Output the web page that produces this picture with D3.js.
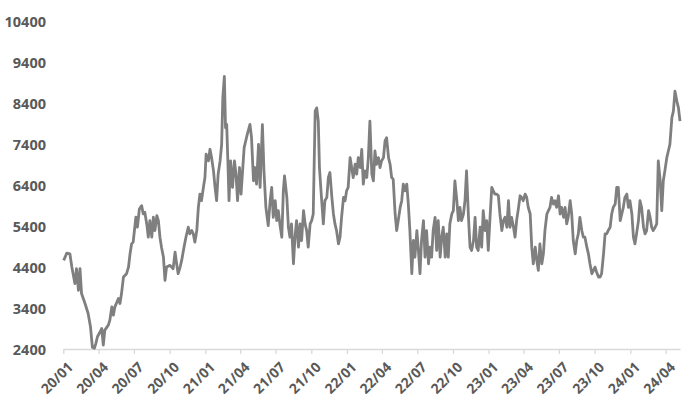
<!DOCTYPE html>
<html><head><meta charset="utf-8">
<script src="https://cdn.jsdelivr.net/npm/d3@7"></script>
<style>
html,body{margin:0;padding:0;background:#fff;}
svg text{font-family:"Open Sans","Liberation Sans",sans-serif;font-weight:700;fill:#595959;}
</style></head>
<body><svg id="c" width="700" height="419"></svg>
<script>
const dates = [
"2020-01-02","2020-01-10","2020-01-18","2020-01-23","2020-01-31","2020-02-04","2020-02-09","2020-02-13","2020-02-17","2020-02-26",
"2020-03-05","2020-03-11","2020-03-16","2020-03-21","2020-03-25","2020-03-29","2020-04-05","2020-04-09","2020-04-13","2020-04-17",
"2020-04-26","2020-04-30","2020-05-05","2020-05-09","2020-05-13","2020-05-22","2020-05-26","2020-05-30","2020-06-04","2020-06-12",
"2020-06-17","2020-06-21","2020-06-25","2020-06-29","2020-07-06","2020-07-10","2020-07-15","2020-07-21","2020-07-25","2020-07-29",
"2020-08-03","2020-08-07","2020-08-11","2020-08-16","2020-08-20","2020-08-24","2020-08-29","2020-09-02","2020-09-06","2020-09-10",
"2020-09-15","2020-09-19","2020-09-23","2020-10-02","2020-10-10","2020-10-15","2020-10-19","2020-10-23","2020-10-28","2020-11-01",
"2020-11-07","2020-11-12","2020-11-18","2020-11-22","2020-11-27","2020-12-01","2020-12-05","2020-12-10","2020-12-14","2020-12-18",
"2020-12-22","2020-12-27","2020-12-31","2021-01-03","2021-01-09","2021-01-13","2021-01-17","2021-01-22","2021-01-26","2021-01-30",
"2021-02-03","2021-02-08","2021-02-12","2021-02-15","2021-02-19","2021-02-22","2021-02-25","2021-02-28","2021-03-03","2021-03-07",
"2021-03-12","2021-03-17","2021-03-21","2021-03-25","2021-03-30","2021-04-03","2021-04-07","2021-04-11","2021-04-15","2021-04-19",
"2021-04-26","2021-04-30","2021-05-05","2021-05-09","2021-05-13","2021-05-18","2021-05-22","2021-05-28",
"2021-06-01","2021-06-06","2021-06-12","2021-06-17","2021-06-21","2021-06-25","2021-06-30","2021-07-04","2021-07-08","2021-07-12",
"2021-07-17","2021-07-21","2021-07-24","2021-07-30","2021-08-03","2021-08-07","2021-08-11","2021-08-16","2021-08-20","2021-08-24",
"2021-08-29","2021-09-02","2021-09-06","2021-09-11","2021-09-15","2021-09-19","2021-09-23","2021-09-28","2021-10-02","2021-10-06",
"2021-10-11","2021-10-15","2021-10-19","2021-10-22","2021-10-26","2021-11-01","2021-11-05","2021-11-10","2021-11-14","2021-11-18",
"2021-11-23","2021-11-27","2021-12-01","2021-12-05","2021-12-10","2021-12-14","2021-12-18","2021-12-23","2021-12-27","2021-12-31",
"2022-01-04","2022-01-09","2022-01-13","2022-01-17","2022-01-22","2022-01-26","2022-01-30","2022-02-04","2022-02-08","2022-02-12",
"2022-02-16","2022-02-21","2022-02-25","2022-03-01","2022-03-06","2022-03-10","2022-03-14","2022-03-18","2022-03-23","2022-03-27",
"2022-03-31","2022-04-05","2022-04-09","2022-04-13","2022-04-18","2022-04-22","2022-04-26","2022-04-30","2022-05-05","2022-05-09",
"2022-05-13","2022-05-18","2022-05-22","2022-05-26","2022-05-30","2022-06-04","2022-06-08","2022-06-12","2022-06-17","2022-06-21",
"2022-06-25","2022-06-30","2022-07-04","2022-07-08","2022-07-12","2022-07-17","2022-07-21","2022-07-25","2022-07-30","2022-08-03",
"2022-08-07","2022-08-11","2022-08-16","2022-08-20","2022-08-24","2022-08-29","2022-09-02","2022-09-06","2022-09-11","2022-09-15",
"2022-09-19","2022-09-23","2022-09-28","2022-10-02","2022-10-06","2022-10-11","2022-10-15","2022-10-19","2022-10-23","2022-10-28",
"2022-11-01","2022-11-05","2022-11-10","2022-11-14","2022-11-18","2022-11-23","2022-11-27","2022-12-01","2022-12-05","2022-12-10",
"2022-12-14","2022-12-18","2022-12-23","2022-12-27","2022-12-31","2023-01-05","2023-01-09","2023-01-13","2023-01-17","2023-01-22",
"2023-01-26","2023-01-30","2023-02-04","2023-02-08","2023-02-12","2023-02-17","2023-02-21","2023-02-25","2023-03-01","2023-03-06",
"2023-03-10","2023-03-14","2023-03-19","2023-03-23","2023-03-27","2023-03-31","2023-04-05","2023-04-09","2023-04-13","2023-04-18",
"2023-04-22","2023-04-26","2023-05-01","2023-05-05","2023-05-09","2023-05-13","2023-05-18","2023-05-22","2023-05-26","2023-05-31",
"2023-06-04","2023-06-08","2023-06-12","2023-06-17","2023-06-21","2023-06-25","2023-06-30","2023-07-04","2023-07-08","2023-07-13",
"2023-07-17","2023-07-21","2023-07-25","2023-07-30","2023-08-03","2023-08-07","2023-08-12","2023-08-16","2023-08-20","2023-08-24",
"2023-08-29","2023-09-02","2023-09-06","2023-09-11","2023-09-15","2023-09-19","2023-09-24","2023-09-28","2023-10-02","2023-10-06",
"2023-10-11","2023-10-15","2023-10-19","2023-10-24","2023-10-28","2023-11-01","2023-11-05","2023-11-10","2023-11-14","2023-11-18",
"2023-11-23","2023-11-27","2023-12-01","2023-12-06","2023-12-10","2023-12-14","2023-12-18","2023-12-23","2023-12-27","2023-12-31",
"2024-01-05","2024-01-09","2024-01-13","2024-01-17","2024-01-22","2024-01-26","2024-01-30","2024-02-04","2024-02-08","2024-02-12",
"2024-02-17","2024-02-21","2024-02-25","2024-02-29","2024-03-05","2024-03-09","2024-03-13","2024-03-18","2024-03-22","2024-03-26",
"2024-03-30","2024-04-04","2024-04-08","2024-04-12","2024-04-17","2024-04-21","2024-04-25","2024-04-30","2024-05-04","2024-05-08"
];
const values = [
4564,4742,4726,4402,3997,4362,3835,4362,3754,3511,
3268,2944,2441,2417,2539,2700,2822,2903,2498,2862,
2984,3106,3430,3227,3430,3632,3511,3754,4159,4240,
4402,4726,4969,5010,5618,5375,5820,5901,5699,5739,
5456,5131,5537,5131,5618,5293,5658,5537,5131,4888,
4645,4078,4402,4443,4362,4767,4483,4240,4402,4564,
4888,5131,5375,5212,5293,5212,5010,5293,5861,6185,
6023,6347,6590,7157,6995,7279,7076,6752,6347,6023,
6671,6995,7400,8535,9061,7805,7886,6995,6023,6995,
6347,6995,6671,6023,6833,6185,6752,7319,7481,7643,
7886,7562,6509,6833,6428,7400,6347,7880,
6751,5860,5414,6022,6346,5617,6022,5536,5779,5455,
5131,6265,6630,6103,5374,5131,5455,4482,5131,5536,
4888,5455,5050,5779,5455,5293,4888,5455,5536,5698,
8210,8291,7967,6832,6265,5455,6022,6103,6589,6711,
6103,5698,5455,5293,4969,5131,5617,6103,6022,6265,
6346,7075,6832,6589,6913,6670,7075,6832,7278,6427,
6751,6589,7075,7967,6670,6508,7237,6913,7075,6832,
6994,7075,7481,7562,7075,6913,6589,6549,5698,5293,
5536,5860,6022,6427,6265,6427,5941,5293,4239,5050,
4644,5293,4807,4239,5050,5536,4644,5293,4482,4888,
4644,5293,5617,4807,5536,4644,5131,5374,4644,5212,
4644,5455,5698,5779,6508,6022,5536,5860,5536,5698,
6022,6751,5617,4888,4807,5050,5617,4888,4807,5374,
4888,5779,5293,5536,4807,5698,6346,6265,6184,6184,
6143,5698,5293,5536,5617,5374,6022,5374,5617,5374,
5131,5536,5860,6143,6103,6022,6184,6103,5860,5698,
4888,4482,4888,4563,4320,4969,4482,4725,5293,5698,
5779,5860,6103,5941,6022,5860,6143,5698,5860,5617,
5860,5455,5617,6022,5698,5050,4725,5050,5212,5617,
5293,5131,5131,4888,4725,4482,4239,4320,4401,4280,
4158,4158,4239,4725,5212,5212,5293,5374,5698,5860,
5941,6346,6346,5536,5698,5860,6103,6184,5860,6022,
5698,5131,4969,5212,5536,6022,5860,5374,5212,5293,
5779,5617,5374,5293,5374,5455,6994,6508,5779,6508,
6751,7075,7237,7399,8048,8210,8696,8453,8291,7967
];
const yTicks = [2400,3400,4400,5400,6400,7400,8400,9400,10400];
const xTickDates = ["2020-01-01","2020-04-01","2020-07-01","2020-10-01","2021-01-01","2021-04-01","2021-07-01","2021-10-01",
"2022-01-01","2022-04-01","2022-07-01","2022-10-01","2023-01-01","2023-04-01","2023-07-01","2023-10-01","2024-01-01","2024-04-01"];
const xTickLabels = ["20/01","20/04","20/07","20/10","21/01","21/04","21/07","21/10","22/01","22/04","22/07","22/10",
"23/01","23/04","23/07","23/10","24/01","24/04"];
const domainDates = ["2020-01-01","2024-05-08"];

const parse = d3.utcParse("%Y-%m-%d");
const data = dates.map((d,i)=>({date:parse(d), value:values[i]}));
const svg = d3.select("#c");
const x = d3.scaleUtc().domain(domainDates.map(parse)).range([63.3, 680]);
const y = d3.scaleLinear().domain([2400,10400]).range([349, 21.5]);

// y axis labels
const ya = svg.append("g").attr("transform","translate(46,0)")
  .call(d3.axisLeft(y).tickValues(yTicks).tickSize(0).tickPadding(0).tickFormat(d3.format("d")));
ya.select(".domain").remove();
ya.selectAll("text").attr("font-size",14.5).attr("dy","0.36em").style("font-family",null);

// x axis
const tickD = xTickDates.map(parse);
const xa = svg.append("g").attr("transform","translate(0,349)")
  .call(d3.axisBottom(x).tickValues(tickD).tickSize(5).tickSizeOuter(0)
    .tickFormat((d,i)=>xTickLabels[i]));
xa.select(".domain").attr("stroke","#d9d9d9").attr("stroke-width",1.3);
xa.selectAll(".tick line").attr("stroke","#d9d9d9").attr("stroke-width",1.3);
xa.selectAll(".tick text").attr("font-size",14).style("font-family",null)
  .attr("text-anchor","end").attr("dy",null).attr("y",0)
  .attr("transform","translate(10,19) rotate(-45)");

// line
const line = d3.line().x(d=>x(d.date)).y(d=>y(d.value));
svg.append("path").datum(data).attr("d",line)
  .attr("fill","none").attr("stroke","#7f7f7f").attr("stroke-width",2.8)
  .attr("stroke-linejoin","round");
</script></body></html>
